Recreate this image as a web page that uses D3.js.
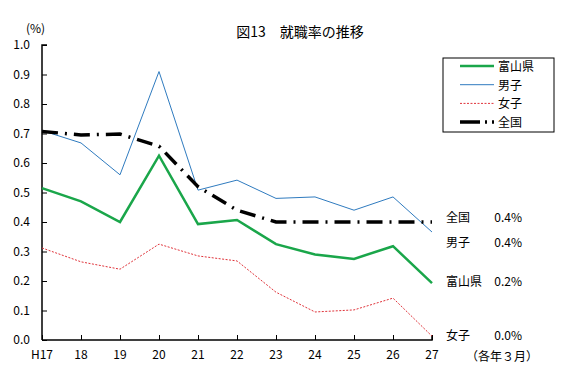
<!DOCTYPE html>
<html>
<head>
<meta charset="utf-8">
<script src="https://cdn.jsdelivr.net/npm/d3@7"></script>
<style>
  body { margin: 0; background: #fff; }
  svg text { font-family: "Noto Sans CJK JP", "DejaVu Sans", sans-serif; font-size: 12px; fill: #000; }
</style>
</head>
<body>
<svg id="chart" width="586" height="379"></svg>
<script>
const years = ['H17', '18', '19', '20', '21', '22', '23', '24', '25', '26', '27'];
const yTicks = [0, 0.1, 0.2, 0.3, 0.4, 0.5, 0.6, 0.7, 0.8, 0.9, 1.0];

const toyama = [0.515, 0.47, 0.40, 0.625, 0.393, 0.407, 0.325, 0.29, 0.275, 0.318, 0.193];
const male = [0.71, 0.668, 0.56, 0.91, 0.508, 0.542, 0.48, 0.485, 0.44, 0.485, 0.366];
const female = [0.312, 0.265, 0.24, 0.325, 0.285, 0.268, 0.162, 0.095, 0.102, 0.142, 0.013];
const national = [0.707, 0.695, 0.698, 0.657, 0.52, 0.44, 0.40, 0.40, 0.40, 0.40, 0.40];

const seriesNames = ['富山県', '男子', '女子', '全国'];
const endLabels = [
  {name: '全国', value: '0.4%', y: 218},
  {name: '男子', value: '0.4%', y: 243},
  {name: '富山県', value: '0.2%', y: 282},
  {name: '女子', value: '0.0%', y: 336}
];

const svg = d3.select('#chart');
const margin = {top: 45, left: 42, right: 154, bottom: 39};
const width = 586, height = 379;

const x = d3.scalePoint()
  .domain(years)
  .range([margin.left, 432]);

const y = d3.scaleLinear()
  .domain([0, 1])
  .range([340, margin.top]);

const styles = [
  {data: toyama, color: '#1aa64a', width: 2.5, dash: null},
  {data: male, color: '#2f7bbf', width: 1, dash: null},
  {data: female, color: '#e0333a', width: 1, dash: '2,1.5'},
  {data: national, color: '#000', width: 3.5, dash: '16,7,2,7'}
];

// axes
svg.append('g')
  .attr('transform', `translate(${margin.left},0)`)
  .call(d3.axisRight(y).tickValues(yTicks).tickSize(5).tickFormat(''))
  .call(g => g.select('.domain').attr('d', `M5,${y(1)}H0V${y(0)}`).attr('stroke', '#000').attr('stroke-width', 1.5));

svg.append('g').selectAll('text')
  .data(yTicks)
  .join('text')
  .attr('x', 30)
  .attr('y', d => y(d) + 4)
  .attr('text-anchor', 'end')
  .text(d => d.toFixed(1));

svg.append('g')
  .attr('transform', `translate(0,${y(0)})`)
  .call(d3.axisTop(x).tickSize(5).tickFormat(''))
  .call(g => g.select('.domain').attr('d', `M${x.range()[0]},0H${x.range()[1]}V-5`).attr('stroke', '#000').attr('stroke-width', 1.5));

svg.append('g').selectAll('text')
  .data(years)
  .join('text')
  .attr('x', d => x(d))
  .attr('y', 359)
  .attr('text-anchor', 'middle')
  .text(d => d);

// lines
const line = d3.line()
  .x((d, i) => x(years[i]))
  .y(d => y(d));

svg.append('g').selectAll('path')
  .data(styles)
  .join('path')
  .attr('fill', 'none')
  .attr('stroke', d => d.color)
  .attr('stroke-width', d => d.width)
  .attr('stroke-dasharray', d => d.dash)
  .attr('d', d => line(d.data));

// title and labels
svg.append('text')
  .attr('x', 300).attr('y', 37)
  .attr('text-anchor', 'middle')
  .style('font-size', '14px')
  .text('図13　就職率の推移');

svg.append('text')
  .attr('x', 26).attr('y', 33)
  .text('(%)');

svg.append('text')
  .attr('x', 466).attr('y', 361)
  .text('（各年３月）');

const ends = svg.append('g').selectAll('g')
  .data(endLabels)
  .join('g');
ends.append('text')
  .attr('x', 446).attr('y', d => d.y + 4)
  .text(d => d.name);
ends.append('text')
  .attr('x', 522).attr('y', d => d.y + 4)
  .attr('text-anchor', 'end')
  .text(d => d.value);

// legend
const legend = svg.append('g');
legend.append('rect')
  .attr('x', 443).attr('y', 58)
  .attr('width', 111).attr('height', 74)
  .attr('fill', '#fff')
  .attr('stroke', '#000');

const rows = legend.selectAll('g')
  .data(styles)
  .join('g')
  .attr('transform', (d, i) => `translate(0,${66 + i * 18.7})`);
rows.append('line')
  .attr('x1', 460).attr('x2', 494)
  .attr('stroke', d => d.color)
  .attr('stroke-width', d => d.width)
  .attr('stroke-dasharray', (d, i) => i === 3 ? '20,5,2,5' : d.dash);
rows.append('text')
  .attr('x', 498).attr('y', 5)
  .text((d, i) => seriesNames[i]);
</script>
</body>
</html>
